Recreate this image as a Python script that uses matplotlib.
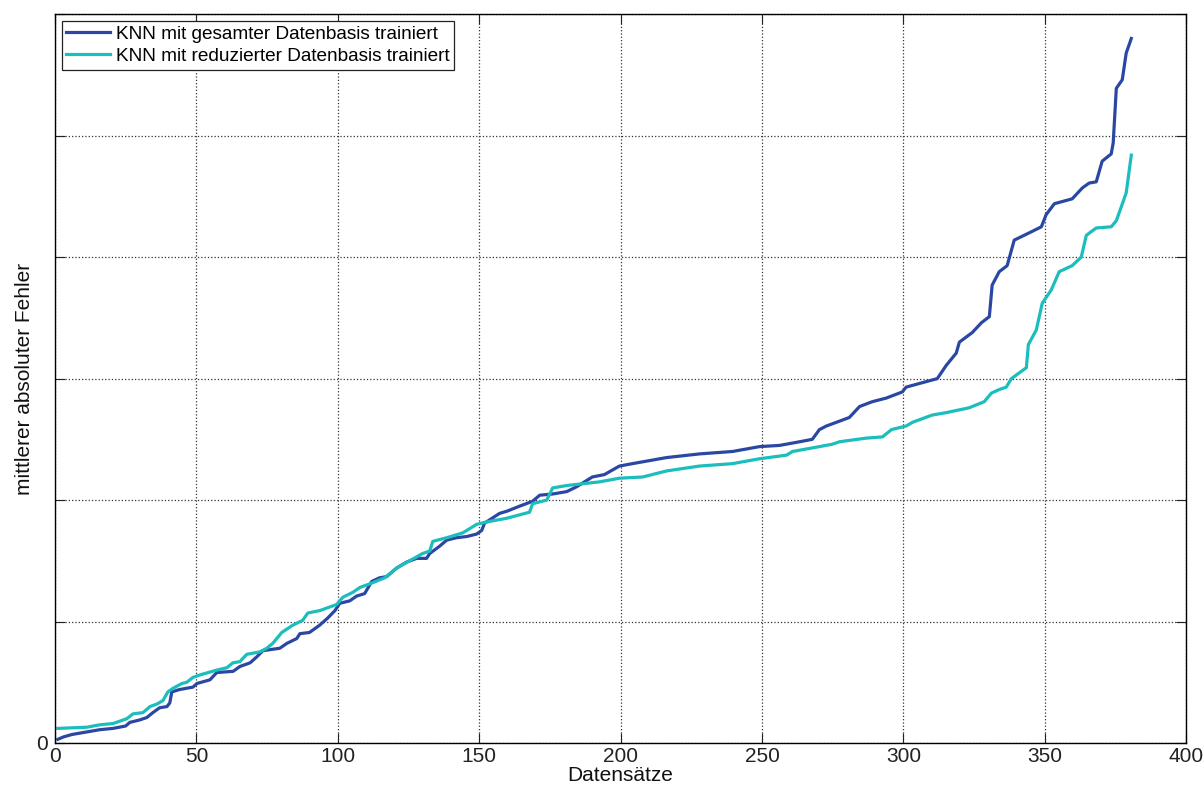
import numpy as np
import matplotlib
matplotlib.use("Agg")
import matplotlib.pyplot as plt

plt.rcParams['font.family'] = ['Liberation Sans', 'DejaVu Sans']

# Werte (Datensatz, mittlerer absoluter Fehler)
gesamt = [
    (1, 0.03), (3, 0.05), (6, 0.07), (11, 0.09), (16, 0.11), (20.5, 0.12),
    (25, 0.14), (26.5, 0.17), (30, 0.19), (32.5, 0.21), (34.6, 0.25), (37, 0.29),
    (39.6, 0.30), (40.6, 0.33), (41.3, 0.42), (44, 0.44), (48.8, 0.46), (50.2, 0.49),
    (54.8, 0.52), (57.2, 0.58), (63, 0.59), (65.4, 0.63), (69, 0.66), (71.4, 0.71),
    (73.5, 0.76), (79.5, 0.78), (82, 0.82), (85.5, 0.86), (86.6, 0.90), (90, 0.91),
    (93.6, 0.97), (96.5, 1.03), (99, 1.09), (100.7, 1.15), (104.2, 1.17), (106.7, 1.21),
    (109.5, 1.23), (112, 1.33), (114.8, 1.36), (117.3, 1.37), (120.8, 1.44), (124.4, 1.49),
    (127.9, 1.52), (131.4, 1.52), (132.5, 1.56), (136, 1.62), (138.5, 1.67), (142, 1.69),
    (145.6, 1.70), (149.1, 1.72), (150.9, 1.75), (151.9, 1.81), (157.2, 1.89), (160, 1.91),
    (164.3, 1.95), (168.9, 1.99), (171.4, 2.04), (176, 2.05), (181, 2.07), (184.5, 2.11),
    (190, 2.19), (194.3, 2.21), (199.6, 2.28), (204.2, 2.30), (216.3, 2.35), (227.9, 2.38),
    (239.6, 2.40), (249.1, 2.44), (256.2, 2.45), (263.3, 2.48), (267.8, 2.50), (270.3, 2.58),
    (272.8, 2.61), (276.3, 2.64), (280.9, 2.68), (284.5, 2.77), (289, 2.81), (294, 2.84),
    (299.6, 2.89), (301, 2.93), (305.7, 2.96), (312, 3.00), (315.2, 3.11), (318.7, 3.21),
    (319.8, 3.30), (324.4, 3.38), (327.6, 3.46), (330.4, 3.51), (331.4, 3.77), (333.9, 3.88),
    (336.7, 3.93), (339.2, 4.14), (344.5, 4.20), (348.8, 4.25), (350.5, 4.35), (353.4, 4.44),
    (359.7, 4.48), (363.3, 4.57), (365.7, 4.61), (368.2, 4.62), (370.3, 4.79), (373.5, 4.85),
    (374.2, 4.94), (375.3, 5.39), (377.4, 5.46), (378.8, 5.68), (380.6, 5.80),
]

reduziert = [
    (1, 0.12), (11.3, 0.13), (15.9, 0.15), (20.5, 0.16), (25.4, 0.20), (27.6, 0.24),
    (31.1, 0.25), (33.6, 0.30), (36, 0.32), (38.2, 0.35), (39.9, 0.42), (41.7, 0.45),
    (44.9, 0.49), (46.6, 0.50), (48.8, 0.54), (51.2, 0.56), (57.2, 0.60), (60.8, 0.62),
    (62.9, 0.66), (65.4, 0.67), (67.8, 0.73), (72.4, 0.75), (74.9, 0.78), (77, 0.82),
    (80.2, 0.91), (84.1, 0.97), (87.6, 1.01), (89.4, 1.07), (93.6, 1.09), (97.2, 1.12),
    (99.6, 1.14), (101.8, 1.20), (105.3, 1.24), (107.8, 1.28), (112.4, 1.32), (116.6, 1.36),
    (120.8, 1.44), (125.4, 1.50), (130, 1.56), (132.5, 1.58), (133.6, 1.66), (138.5, 1.69),
    (144.2, 1.73), (149.1, 1.80), (152.7, 1.82), (159.7, 1.85), (167.8, 1.90), (168.9, 1.97),
    (173.9, 2.00), (176, 2.10), (181, 2.12), (192.6, 2.15), (199.6, 2.18), (207.8, 2.19),
    (216.3, 2.24), (227.9, 2.28), (239.6, 2.30), (249.1, 2.34), (258.7, 2.37), (260.8, 2.40),
    (270.3, 2.44), (274.9, 2.46), (277.4, 2.48), (286.9, 2.51), (292.6, 2.52), (295.8, 2.58),
    (301, 2.61), (303.2, 2.64), (310.2, 2.70), (315.2, 2.72), (323.3, 2.76), (328.6, 2.81),
    (331.1, 2.88), (333.9, 2.91), (336.4, 2.93), (338.2, 3.00), (343.5, 3.09), (344.2, 3.28),
    (347, 3.40), (349.1, 3.62), (352.3, 3.73), (355.1, 3.88), (359.7, 3.93), (362.9, 4.00),
    (364.7, 4.18), (368.2, 4.24), (373.5, 4.25), (375.3, 4.30), (377, 4.41), (378.8, 4.53),
    (380.6, 4.84),
]

x_ticks = [0, 50, 100, 150, 200, 250, 300, 350, 400]
y_ticks = [0, 1, 2, 3, 4, 5, 6]
y_tick_labels = ['0', '', '', '', '', '', '']

labels = ['KNN mit gesamter Datenbasis trainiert',
          'KNN mit reduzierter Datenbasis trainiert']
farben = ['#2a48a3', '#1cbdbd']

fig = plt.figure(figsize=(12.03, 7.9), dpi=100)
ax = fig.add_axes([0.0457, 0.0595, 0.9403, 0.9225])

for daten, lab, col in zip([gesamt, reduziert], labels, farben):
    d = np.array(daten)
    ax.plot(d[:, 0], d[:, 1], color=col, lw=2.3, label=lab)

ax.set_xlim(0, 400)
ax.set_ylim(0, 6)
ax.set_xticks(x_ticks)
ax.set_yticks(y_ticks)
ax.set_yticklabels(y_tick_labels)
ax.grid(True, linestyle=':', color='#333333', lw=0.9)
ax.tick_params(direction='in', top=True, right=True, length=7,
               labelsize=15, colors='#222222')
ax.tick_params(axis='x', pad=3)
ax.tick_params(axis='y', pad=5)
for s in ax.spines.values():
    s.set_linewidth(1.0)

ax.set_xlabel('Datensätze', fontsize=15, labelpad=0, color='#111111')
ax.set_ylabel('mittlerer absoluter Fehler', fontsize=15, labelpad=2, color='#111111')

leg = ax.legend(loc='upper left', fontsize=13.7, fancybox=False, framealpha=1,
                edgecolor='#222222', borderpad=0.25, labelspacing=0.25,
                handlelength=2.3, handletextpad=0.3, borderaxespad=0.35)
leg.get_frame().set_linewidth(0.9)

fig.savefig('out.png', dpi=100)
